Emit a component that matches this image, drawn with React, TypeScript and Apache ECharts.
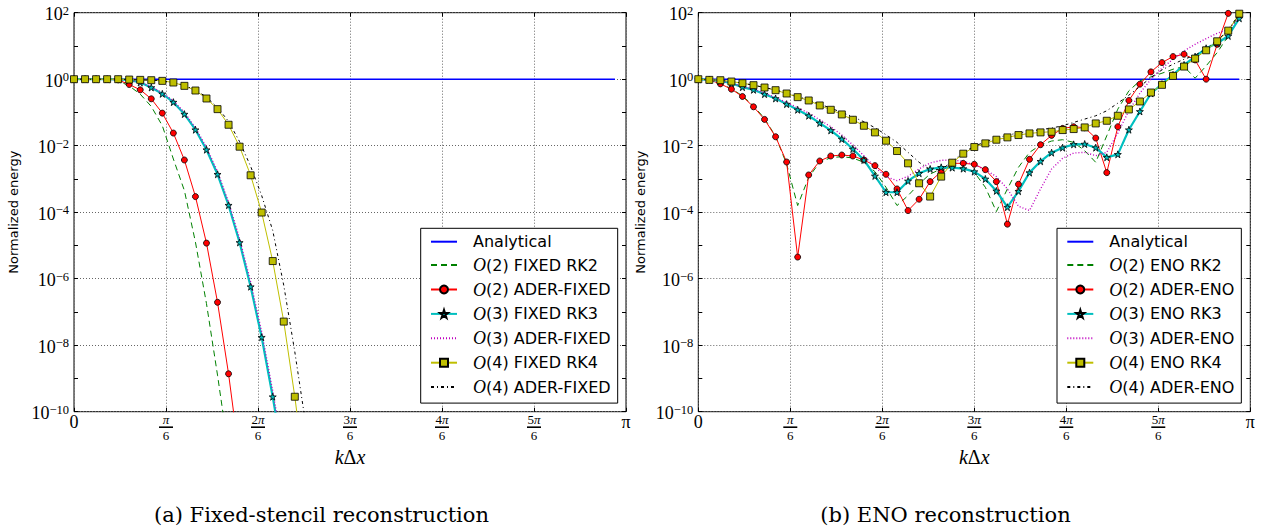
import React, { useEffect, useRef } from "react";
import * as echarts from "echarts";

// Sampled wavenumbers k·Δx = 2πm/N for N = 100, m = 0..49
const kDx = Array.from({ length: 50 }, (_, m) => (m * Math.PI) / 50);

const analytical = [
  1, 1, 1, 1, 1, 1, 1, 1, 1, 1, 1, 1, 1, 1, 1, 1, 1, 1, 1, 1, 1, 1, 1, 1, 1,
  1, 1, 1, 1, 1, 1, 1, 1, 1, 1, 1, 1, 1, 1, 1, 1, 1, 1, 1, 1, 1, 1, 1, 1, 1,
];

// log10 of the normalized energy, fixed-stencil reconstruction
const fixedRk2 = [0, 0, 0, -0.01, -0.05, -0.2, -0.45, -0.82, -1.4, -2.4, -3.35, -4.9, -6.75, -8.9, -11.2];
const aderFixed2 = [0, 0, 0, -0.005, -0.02, -0.16, -0.32, -0.59, -1.02, -1.62, -2.43, -3.53, -4.93, -6.71, -8.86, -11.4];
const fixedRk3 = [0, 0, 0, 0, -0.005, -0.02, -0.1, -0.25, -0.44, -0.69, -1.05, -1.52, -2.12, -2.86, -3.79, -4.91, -6.24, -7.76, -9.55, -11.5];
const aderFixed3 = [0, 0, 0, 0, -0.005, -0.02, -0.09, -0.23, -0.41, -0.65, -1.0, -1.46, -2.05, -2.78, -3.7, -4.8, -6.1, -7.6, -9.38, -11.3];
const fixedRk4 = [0, 0, 0, 0, 0, -0.01, -0.02, -0.03, -0.05, -0.1, -0.2, -0.34, -0.58, -0.9, -1.37, -2.03, -2.89, -4.01, -5.47, -7.29, -9.55, -12.1];
const aderFixed4 = [0, 0, 0, 0, 0, -0.01, -0.02, -0.03, -0.05, -0.1, -0.19, -0.32, -0.54, -0.85, -1.27, -1.88, -2.62, -3.5, -4.55, -6.2, -8.2, -10.4];

// log10 of the normalized energy, ENO reconstruction
const enoRk2 = [
  0, -0.02, -0.13, -0.29, -0.5, -0.8, -1.18, -1.72, -2.55, -3.8,
  -2.95, -2.5, -2.36, -2.33, -2.37, -2.5, -2.78, -3.25, -3.8, -3.5,
  -3.15, -2.85, -2.7, -2.65, -2.66, -2.8, -3.25, -3.98, -3.3, -2.65,
  -2.2, -1.98, -1.86, -1.82, -1.9, -2.15, -2.5, -1.7, -0.9, -0.35,
  -0.05, 0.07, 0.18, 0.3, 0.38, 0.03, 0.4, 0.8, 1.3, 2.0,
];
const aderEno2 = [
  0, -0.02, -0.14, -0.3, -0.52, -0.83, -1.21, -1.73, -2.49, -5.35,
  -2.88, -2.46, -2.31, -2.28, -2.31, -2.43, -2.6, -2.86, -3.3, -3.95,
  -3.61, -3.08, -2.78, -2.53, -2.53, -2.56, -2.72, -3.08, -4.36, -3.16,
  -2.41, -1.97, -1.69, -1.48, -1.43, -1.46, -1.77, -2.81, -1.43, -0.64,
  -0.15, 0.22, 0.5, 0.68, 0.75, 0.58, 0, 1.05, 1.98, 2.7,
];
const enoRk3 = [
  0, -0.02, -0.05, -0.12, -0.24, -0.32, -0.45, -0.58, -0.75, -0.92,
  -1.1, -1.32, -1.54, -1.8, -2.1, -2.43, -2.91, -3.4, -3.4, -3.06,
  -2.83, -2.7, -2.65, -2.66, -2.69, -2.78, -3.0, -3.36, -3.85, -3.37,
  -2.81, -2.47, -2.21, -2.06, -1.96, -1.95, -2.06, -2.35, -2.26, -1.52,
  -0.97, -0.43, -0.15, 0.13, 0.43, 0.68, 0.93, 1.08, 1.3, 1.83,
];
const aderEno3 = [
  0, -0.02, -0.05, -0.11, -0.22, -0.3, -0.42, -0.55, -0.7, -0.86,
  -1.02, -1.22, -1.43, -1.68, -1.98, -2.3, -2.65, -2.93, -3.05, -2.92,
  -2.7, -2.52, -2.44, -2.43, -2.47, -2.57, -2.72, -2.93, -3.3, -3.82,
  -3.95, -3.3, -2.7, -2.38, -2.22, -2.2, -2.3, -2.2, -1.62, -0.95,
  -0.42, 0.0, 0.33, 0.6, 0.85, 1.05, 1.22, 1.38, 1.5, 1.85,
];
const enoRk4 = [
  0, -0.02, -0.03, -0.07, -0.12, -0.18, -0.25, -0.33, -0.43, -0.54,
  -0.64, -0.79, -0.92, -1.06, -1.22, -1.4, -1.6, -1.85, -2.16, -2.53,
  -3.13, -3.53, -2.93, -2.51, -2.24, -2.04, -1.93, -1.82, -1.75, -1.68,
  -1.63, -1.6, -1.58, -1.53, -1.5, -1.45, -1.33, -1.25, -1.1, -0.91,
  -0.67, -0.4, -0.17, 0.1, 0.38, 0.62, 0.87, 1.14, 1.46, 1.97,
];
const aderEno4 = [
  0, -0.02, -0.03, -0.07, -0.12, -0.18, -0.25, -0.32, -0.42, -0.52,
  -0.62, -0.75, -0.87, -1.0, -1.13, -1.28, -1.46, -1.67, -1.9, -2.2,
  -2.5, -2.72, -2.72, -2.48, -2.2, -2.02, -1.88, -1.77, -1.68, -1.62,
  -1.56, -1.52, -1.47, -1.4, -1.3, -1.2, -1.1, -0.95, -0.72, -0.48,
  -0.22, 0.05, 0.28, 0.45, 0.6, 0.72, 0.92, 1.17, 1.47, 1.97,
];

const fixedNames = [
  "Analytical", "O(2) FIXED RK2", "O(2) ADER-FIXED", "O(3) FIXED RK3",
  "O(3) ADER-FIXED", "O(4) FIXED RK4", "O(4) ADER-FIXED",
];
const enoNames = [
  "Analytical", "O(2) ENO RK2", "O(2) ADER-ENO", "O(3) ENO RK3",
  "O(3) ADER-ENO", "O(4) ENO RK4", "O(4) ADER-ENO",
];
const xTickNumerators = ["0", "π", "2π", "3π", "4π", "5π", "π"];
const captions = ["(a) Fixed-stencil reconstruction", "(b) ENO reconstruction"];

const STAR =
  "path://M50,0 L61.8,35.1 98.1,35.1 68.8,56.7 79.4,90.9 50,69.1 20.6,90.9 31.2,56.7 1.9,35.1 38.2,35.1 Z";

type Look = {
  color: string;
  width: number;
  dash: any;
  symbol: string;
  size: number;
};
const looks: Look[] = [
  { color: "#0000ff", width: 1.6, dash: "solid", symbol: "none", size: 0 },
  { color: "#008000", width: 1, dash: [6, 4], symbol: "none", size: 0 },
  { color: "#ff0000", width: 1, dash: "solid", symbol: "circle", size: 6 },
  { color: "#00bfbf", width: 2.2, dash: "solid", symbol: STAR, size: 7 },
  { color: "#bf00bf", width: 1.4, dash: [1, 2], symbol: "none", size: 0 },
  { color: "#bfbf00", width: 1, dash: "solid", symbol: "rect", size: 7 },
  { color: "#000000", width: 1, dash: [3, 3, 1, 3], symbol: "none", size: 0 },
];

const PLOT_TOP = 12.7;
const PLOT_H = 399;
const PLOT_W = 552;
const panels = [
  { left: 74, names: fixedNames, curves: [analytical, fixedRk2, aderFixed2, fixedRk3, aderFixed3, fixedRk4, aderFixed4], legendLeft: 420.7, nameGap: 54, caption: captions[0], captionX: 321.5 },
  { left: 698.3, names: enoNames, curves: [analytical, enoRk2, aderEno2, enoRk3, aderEno3, enoRk4, aderEno4], legendLeft: 1057, nameGap: 51, caption: captions[1], captionX: 945.5 },
];

const gridLine = { color: "#666", type: [1, 2], width: 1 };
const tickStyle = { show: true, inside: true, length: 4, lineStyle: { color: "#000", width: 1 } };
const SERIF = "Liberation Serif";

function toPoints(curve: number[], isAnalytical: boolean) {
  return curve.map((v, i) => [kDx[i], isAnalytical ? v : Math.pow(10, v)]);
}

function xLabel(value: number) {
  const n = Math.round(value / (Math.PI / 6));
  if (n <= 0) return "0";
  if (n >= 6) return "π";
  const num = xTickNumerators[n];
  const coef = num.length > 1 ? num.slice(0, -1) : "";
  return `{n|${coef}}{p|π}\n{bar| }\n{d|6}`;
}

function yLabel(value: number) {
  const e = Math.round(Math.log10(value));
  return `10{s|${e < 0 ? "−" + -e : e}}`;
}

function legendLabel(name: string) {
  return name.startsWith("O(") ? `{o|O}${name.slice(1)}` : name;
}

export default function App() {
  const ref = useRef<HTMLDivElement>(null);

  useEffect(() => {
    if (!ref.current) return;
    const chart = echarts.init(ref.current, undefined, { renderer: "svg" });

    const grid: any[] = [];
    const xAxis: any[] = [];
    const yAxis: any[] = [];
    const series: any[] = [];
    const legend: any[] = [];
    const graphic: any[] = [];

    panels.forEach((p, g) => {
      grid.push({
        left: p.left,
        top: PLOT_TOP,
        width: PLOT_W,
        height: PLOT_H,
        show: true,
        borderColor: "#000",
        borderWidth: 1,
        backgroundColor: "transparent",
      });
      const xBase = {
        gridIndex: g,
        type: "value",
        min: 0,
        max: Math.PI,
        interval: Math.PI / 6,
        axisLine: { show: false },
        axisTick: tickStyle,
      };
      xAxis.push({
        ...xBase,
        position: "bottom",
        axisLabel: {
          margin: 2,
          color: "#000",
          fontFamily: SERIF,
          fontSize: 18,
          lineHeight: 17,
          formatter: xLabel,
          rich: {
            n: { fontFamily: SERIF, fontSize: 13, lineHeight: 11, color: "#000" },
            p: { fontFamily: SERIF, fontStyle: "italic", fontSize: 13, lineHeight: 11, color: "#000" },
            bar: { width: 14, height: 1.6, backgroundColor: "#000", fontSize: 1, lineHeight: 5 },
            d: { fontFamily: SERIF, fontSize: 13, lineHeight: 11, color: "#000" },
          },
        },
        splitLine: { show: true, lineStyle: gridLine },
        name: "{i|k}{u|Δ}{i|x}",
        nameLocation: "middle",
        nameGap: 30,
        nameTextStyle: {
          rich: {
            i: { fontFamily: SERIF, fontStyle: "italic", fontSize: 20, color: "#000" },
            u: { fontFamily: SERIF, fontSize: 20, color: "#000" },
          },
        },
      });
      xAxis.push({
        ...xBase,
        position: "top",
        axisLabel: { show: false },
        splitLine: { show: false },
      });

      const yBase = {
        gridIndex: g,
        type: "log",
        logBase: 10,
        min: 1e-10,
        max: 100,
        axisLine: { show: false },
        axisTick: tickStyle,
      };
      yAxis.push({
        ...yBase,
        position: "left",
        interval: 2,
        axisLabel: {
          margin: 5,
          formatter: yLabel,
          color: "#000",
          fontFamily: SERIF,
          fontSize: 18,
          lineHeight: 20,
          padding: [3, 0, 0, 0],
          rich: {
            s: { fontFamily: SERIF, fontSize: 12.5, lineHeight: 13, verticalAlign: "top", color: "#000" },
          },
        },
        splitLine: { show: true, lineStyle: gridLine },
        name: "Normalized energy",
        nameLocation: "middle",
        nameGap: p.nameGap,
        nameTextStyle: { fontFamily: "DejaVu Sans", fontSize: 13, color: "#000" },
      });
      yAxis.push({
        ...yBase,
        position: "left",
        interval: 1,
        axisLabel: { show: false },
        splitLine: { show: false },
      });
      yAxis.push({
        ...yBase,
        position: "right",
        interval: 1,
        axisLabel: { show: false },
        splitLine: { show: false },
      });

      p.curves.forEach((curve, s) => {
        const lk = looks[s];
        const hasSymbol = lk.symbol !== "none";
        series.push({
          type: "line",
          name: p.names[s],
          xAxisIndex: g * 2,
          yAxisIndex: g * 3,
          data: toPoints(curve, s === 0),
          symbol: lk.symbol,
          symbolSize: lk.size,
          showSymbol: hasSymbol,
          itemStyle: {
            color: lk.color,
            borderColor: "#000",
            borderWidth: hasSymbol ? 0.8 : 0,
          },
          lineStyle: { color: lk.color, width: lk.width, type: lk.dash },
          emphasis: { disabled: true },
          silent: true,
          clip: true,
        });
      });

      legend.push({
        orient: "vertical",
        left: p.legendLeft,
        top: 228.3,
        data: p.names.map((name, s) =>
          looks[s].symbol === "none" ? { name, itemStyle: { opacity: 0 } } : { name }
        ),
        itemWidth: 26,
        itemHeight: 10,
        itemGap: 6.4,
        padding: [5.4, 7, 7, 9.3],
        backgroundColor: "#fff",
        borderColor: "#000",
        borderWidth: 1,
        borderRadius: 0,
        selectedMode: false,
        formatter: legendLabel,
        textStyle: {
          fontFamily: "DejaVu Sans",
          fontSize: 16,
          lineHeight: 16,
          color: "#000",
          padding: [0, 0, 0, 11],
          rich: {
            o: { fontFamily: SERIF, fontStyle: "italic", fontSize: 18, lineHeight: 16, color: "#000" },
          },
        },
      });

      graphic.push({
        type: "text",
        x: p.captionX,
        y: 515,
        silent: true,
        style: {
          text: p.caption,
          fontFamily: "DejaVu Serif",
          fontSize: 21,
          fill: "#000",
          align: "center",
          verticalAlign: "middle",
        },
      });
    });

    chart.setOption({
      animation: false,
      backgroundColor: "#fff",
      grid,
      xAxis,
      yAxis,
      series,
      legend,
      graphic,
    });

    return () => chart.dispose();
  }, []);

  return (
    <div
      ref={ref}
      style={{ position: "absolute", left: 0, top: 0, width: 1268, height: 531 }}
    />
  );
}
